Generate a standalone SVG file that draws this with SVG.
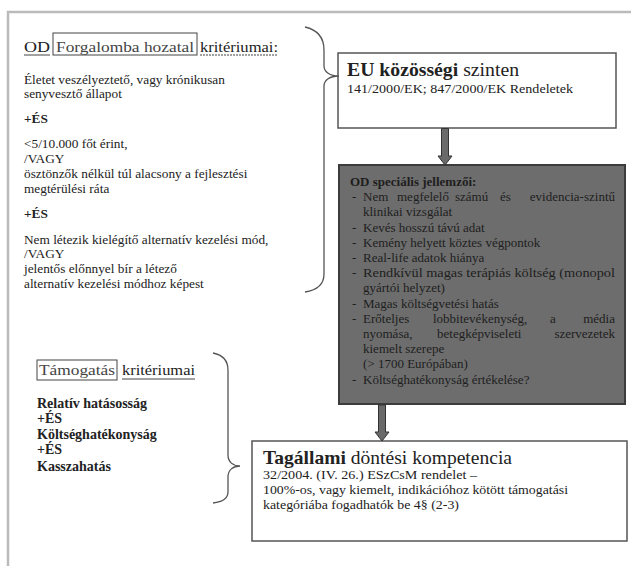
<svg xmlns="http://www.w3.org/2000/svg" width="631" height="566" viewBox="0 0 631 566" font-family="'Liberation Serif', 'DejaVu Serif', serif">
<style>
text{fill:#222}
.hd{font-size:15.5px}
.b{font-size:13.3px}
.bb{font-size:13.3px;font-weight:bold}
.lb{font-size:14px;font-weight:bold}
.dk{font-size:13px;fill:#1e1e1e}
.box{fill:#fff;stroke:#555;stroke-width:1.5}
.brace{fill:none;stroke:#555;stroke-width:1.3}
.arr{fill:#6a6a6a;stroke:#333;stroke-width:1}
.ul{stroke:#444;stroke-width:1}
.frame{stroke:#bbb;stroke-width:2.5;fill:none}
</style>
<rect width="631" height="566" fill="#fff"/>
<path class="frame" d="M8,566 L8,12 L631,12"/>

<g id="od-criteria">
  <text class="hd" x="24" y="52" textLength="26" lengthAdjust="spacingAndGlyphs">OD</text>
  <line class="ul" x1="24" y1="55" x2="50" y2="55"/>
  <rect x="53" y="33" width="144" height="22" fill="none" stroke="#444" stroke-width="1"/>
  <text class="hd" x="56" y="52" style="fill:#444" textLength="138" lengthAdjust="spacingAndGlyphs">Forgalomba hozatal</text>
  <text class="hd" x="200" y="52" textLength="78" lengthAdjust="spacingAndGlyphs">kritériumai:</text>
  <line class="ul" x1="200" y1="55" x2="278" y2="55" stroke-dasharray="2,1"/>
  <text class="b" x="24" y="84">Életet veszélyeztető, vagy krónikusan</text>
  <text class="b" x="24" y="98">senyvesztő állapot</text>
  <text class="bb" x="24" y="123">+ÉS</text>
  <text class="b" x="24" y="148">&lt;5/10.000 főt érint,</text>
  <text class="b" x="24" y="163">/VAGY</text>
  <text class="b" x="24" y="178">ösztönzők nélkül túl alacsony a fejlesztési</text>
  <text class="b" x="24" y="193">megtérülési ráta</text>
  <text class="bb" x="24" y="218">+ÉS</text>
  <text class="b" x="24" y="244">Nem létezik kielégítő alternatív kezelési mód,</text>
  <text class="b" x="24" y="258">/VAGY</text>
  <text class="b" x="24" y="273">jelentős előnnyel bír a létező</text>
  <text class="b" x="24" y="288">alternatív kezelési módhoz képest</text>
</g>

<g id="support-criteria">
  <rect x="37" y="360" width="80" height="20" fill="none" stroke="#444" stroke-width="1"/>
  <text class="hd" x="39" y="375" style="fill:#444" textLength="76" lengthAdjust="spacingAndGlyphs">Támogatás</text>
  <text class="hd" x="122" y="375" textLength="73" lengthAdjust="spacingAndGlyphs">kritériumai</text>
  <line class="ul" x1="122" y1="379" x2="195" y2="379"/>
  <text class="lb" x="37" y="408">Relatív hatásosság</text>
  <text class="lb" x="37" y="423">+ÉS</text>
  <text class="lb" x="37" y="439">Költséghatékonyság</text>
  <text class="lb" x="37" y="454">+ÉS</text>
  <text class="lb" x="37" y="471">Kasszahatás</text>
</g>

<g id="eu-level">
  <rect class="box" x="338" y="53" width="278" height="75"/>
  <text x="347" y="76" style="font-size:19.5px" textLength="172" lengthAdjust="spacingAndGlyphs"><tspan font-weight="bold">EU közösségi</tspan> szinten</text>
  <text x="347" y="93" style="font-size:13.5px" textLength="226" lengthAdjust="spacingAndGlyphs">141/2000/EK; 847/2000/EK Rendeletek</text>
</g>

<g id="od-special">
  <rect x="339" y="165" width="286" height="239" fill="#6d6d6d" stroke="#3c3c3c" stroke-width="2"/>
  <text class="dk" x="350" y="186" font-weight="bold">OD speciális jellemzői:</text>
  <text class="dk" x="352" y="201">-</text>
  <text class="dk" y="201"><tspan x="363">Nem</tspan><tspan x="397">megfelelő</tspan><tspan x="455">számú</tspan><tspan x="500">és</tspan><tspan x="615" text-anchor="end">evidencia-szintű</tspan></text>
  <text class="dk" x="363" y="216">klinikai vizsgálat</text>
  <text class="dk" x="352" y="232">-</text><text class="dk" x="363" y="232">Kevés hosszú távú adat</text>
  <text class="dk" x="352" y="247">-</text><text class="dk" x="363" y="247">Kemény helyett köztes végpontok</text>
  <text class="dk" x="352" y="262">-</text><text class="dk" x="363" y="262">Real-life adatok hiánya</text>
  <text class="dk" x="352" y="277">-</text>
  <text class="dk" x="363" y="277" textLength="252" lengthAdjust="spacingAndGlyphs">Rendkívül magas terápiás költség (monopol</text>
  <text class="dk" x="363" y="292">gyártói helyzet)</text>
  <text class="dk" x="352" y="308">-</text><text class="dk" x="363" y="308">Magas költségvetési hatás</text>
  <text class="dk" x="352" y="323">-</text>
  <text class="dk" y="323"><tspan x="363">Erőteljes</tspan><tspan x="433">lobbitevékenység,</tspan><tspan x="550">a</tspan><tspan x="615" text-anchor="end">média</tspan></text>
  <text class="dk" y="338"><tspan x="363">nyomása,</tspan><tspan x="437">betegképviseleti</tspan><tspan x="615" text-anchor="end">szervezetek</tspan></text>
  <text class="dk" x="363" y="353">kiemelt szerepe</text>
  <text class="dk" x="363" y="368">(&gt; 1700 Európában)</text>
  <text class="dk" x="352" y="384">-</text><text class="dk" x="363" y="384">Költséghatékonyság értékelése?</text>
</g>

<g id="member-state">
  <rect class="box" x="252" y="441" width="375" height="100"/>
  <text x="263" y="464" style="font-size:19.5px" textLength="249" lengthAdjust="spacingAndGlyphs"><tspan font-weight="bold">Tagállami</tspan> döntési kompetencia</text>
  <text x="263" y="479" style="font-size:13.5px" textLength="214" lengthAdjust="spacingAndGlyphs">32/2004. (IV. 26.) ESzCsM rendelet –</text>
  <text x="263" y="494" style="font-size:13.5px" textLength="305" lengthAdjust="spacingAndGlyphs">100%-os, vagy kiemelt, indikációhoz kötött támogatási</text>
  <text x="263" y="509" style="font-size:13.5px" textLength="196" lengthAdjust="spacingAndGlyphs">kategóriába fogadhatók be 4§ (2-3)</text>
</g>

<g id="connectors">
  <path class="brace" d="M305,27 C318,30 324,38 324,50 L324,66 C324,72 330,76 339,76 C330,76 324,80 324,86 L324,274 C324,284 318,290 305,292"/>
  <path class="brace" d="M213,353 C223,355 228,360 228,370 L228,455 C228,462 233,466 240,466 C233,466 228,470 228,477 L228,492 C228,499 222,502 213,503"/>
  <polygon class="arr" points="441.5,128.5 448.5,128.5 448.5,156 452,156 445,165 438,156 441.5,156"/>
  <polygon class="arr" points="378.5,405 385.5,405 385.5,432 389,432 382,441 375,432 378.5,432"/>
</g>
</svg>
